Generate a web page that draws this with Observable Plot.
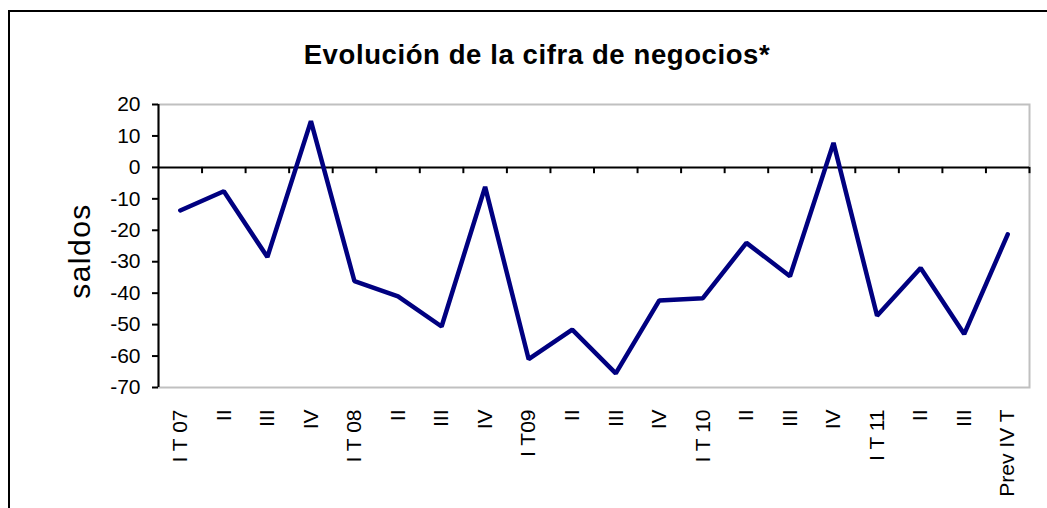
<!DOCTYPE html>
<html>
<head>
<meta charset="utf-8">
<script src="https://cdn.jsdelivr.net/npm/d3@7"></script>
<script src="https://cdn.jsdelivr.net/npm/@observablehq/plot@0.6"></script>
<style>
  html, body { margin: 0; padding: 0; background: #fff; overflow: hidden; }
  #wrap { position: relative; width: 1047px; height: 508px; overflow: hidden; font-family: "Liberation Sans", Arial, sans-serif; }
  #border { position: absolute; left: 8px; top: 10px; width: 1200px; height: 700px; border-left: 2px solid #000; border-top: 2px solid #000; }
  #title { position: absolute; left: 0; width: 1074px; top: 39px; text-align: center; font-weight: bold; font-size: 27.5px; letter-spacing: 0.6px; color: #000; }
  #ylabel { position: absolute; left: 80px; top: 251px; transform: translate(-50%, -50%) rotate(-90deg); font-size: 30px; letter-spacing: 1.5px; color: #000; white-space: nowrap; }
  #chart { position: absolute; left: 0; top: 0; }
  #chart svg text { font-size: 21px; }
</style>
</head>
<body>
<div id="wrap">
  <div id="border"></div>
  <div id="chart"></div>
  <div id="title">Evolución de la cifra de negocios*</div>
  <div id="ylabel">saldos</div>
</div>
<script>
const categories = ["I T 07", "II", "III", "IV", "I T 08", "II", "III", "IV", "I T09", "II", "III", "IV", "I T 10", "II", "III", "IV", "I T 11", "II", "III", "Prev IV T"];
const saldos = [-13.7, -7.6, -28.5, 14.7, -36.2, -41, -50.6, -6.2, -61, -51.6, -65.5, -42.3, -41.6, -24, -34.6, 7.8, -47.2, -32, -53, -21.3];
const yTicks = [20, 10, 0, -10, -20, -30, -40, -50, -60, -70];

const idx = categories.map((_, i) => i);
const boundaries = categories.map((_, i) => i + 0.5);
const data = saldos.map((v, i) => ({i, v}));

const chart = Plot.plot({
  width: 1047,
  height: 508,
  marginLeft: 158,
  marginRight: 18,
  marginTop: 104,
  marginBottom: 121,
  style: {fontFamily: "'Liberation Sans', Arial, sans-serif", fontSize: "21px", color: "#000", background: "transparent"},
  x: {type: "linear", domain: [-0.5, categories.length - 0.5]},
  y: {domain: [-70, 20]},
  marks: [
    Plot.frame({stroke: "#c0c0c0", strokeWidth: 2}),
    Plot.ruleY([0], {stroke: "#000", strokeWidth: 2}),
    Plot.ruleX(boundaries, {x: d => d, y1: 0, y2: -2, stroke: "#000", strokeWidth: 2}),
    Plot.ruleX([-0.5], {y1: -70, y2: 20, stroke: "#000", strokeWidth: 2}),
    Plot.axisY({ticks: yTicks, tickSize: 6, tickPadding: 12, strokeWidth: 2, fontSize: 21, label: null, tickFormat: d => d < 0 ? "-" + Math.abs(d) : String(d)}),
    Plot.axisX({ticks: idx, tickSize: 0, tickPadding: 22, tickRotate: -90, fontSize: 21, label: null, tickFormat: i => categories[i]}),
    Plot.lineY(data, {x: "i", y: "v", stroke: "#000080", strokeWidth: 4.5, strokeLinejoin: "miter"})
  ]
});
document.getElementById("chart").appendChild(chart);
</script>
</body>
</html>
